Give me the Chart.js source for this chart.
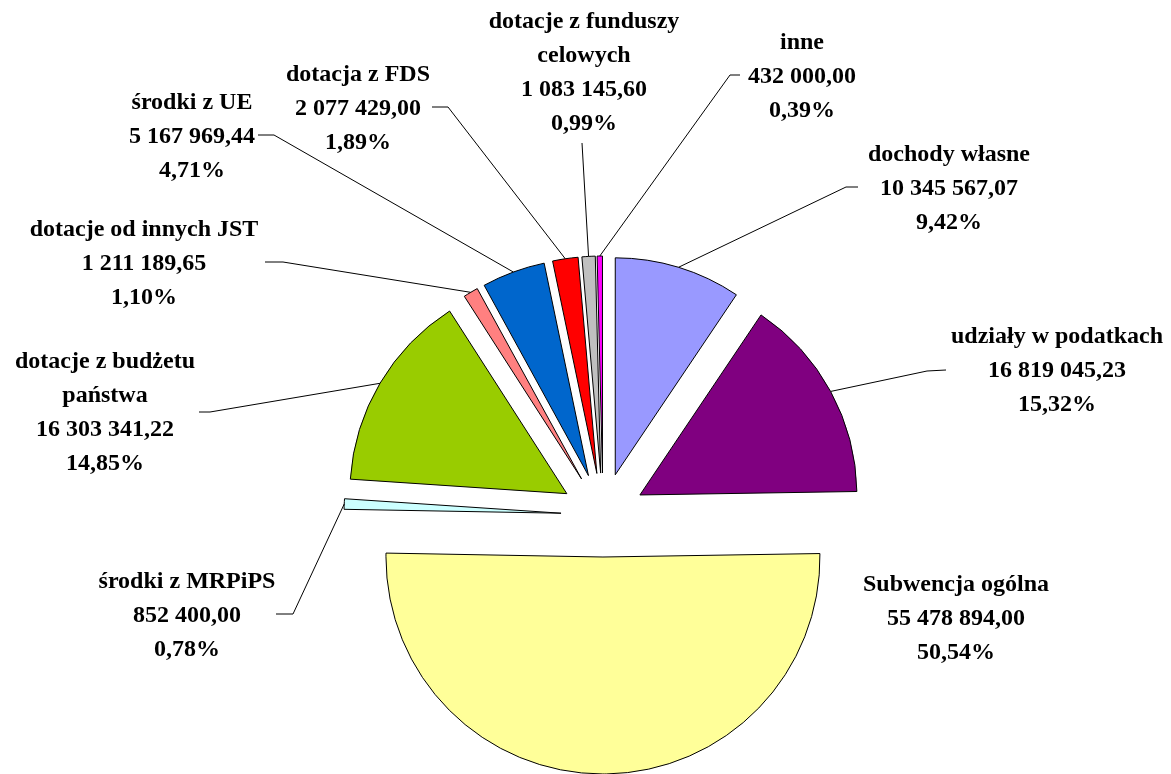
<!DOCTYPE html>
<html>
<head>
<meta charset="utf-8">
<script src="https://cdn.jsdelivr.net/npm/chart.js@4.4.1/dist/chart.umd.min.js"></script>
<style>
  html, body { margin: 0; padding: 0; background: #fff; }
  canvas { display: block; }
</style>
</head>
<body>
<canvas id="pie" width="1171" height="774"></canvas>
<script>
// dane
var names = [
  ['dochody własne'],
  ['udziały w podatkach'],
  ['Subwencja ogólna'],
  ['środki z MRPiPS'],
  ['dotacje z budżetu', 'państwa'],
  ['dotacje od innych JST'],
  ['środki z UE'],
  ['dotacja z FDS'],
  ['dotacje z funduszy', 'celowych'],
  ['inne']
];
var values = [10345567.07, 16819045.23, 55478894.00, 852400.00, 16303341.22,
              1211189.65, 5167969.44, 2077429.00, 1083145.60, 432000.00];
var colors = ['#9999FF', '#800080', '#FFFF99', '#CCFFFF', '#99CC00',
              '#FF8080', '#0066CC', '#FF0000', '#C0C0C0', '#FF00FF'];

// polozenie etykiet (srodek, y pierwszej linii) i linii odniesienia
var labelPos = [
  {x: 949, y: 155, lead: [[858, 187], [846, 187]]},
  {x: 1057, y: 337, lead: [[946, 370], [927, 371]]},
  {x: 956, y: 585, lead: null},
  {x: 187, y: 582, lead: [[276, 614], [293, 614]]},
  {x: 105, y: 362, lead: [[199, 412], [210, 412]]},
  {x: 144, y: 230, lead: [[265, 262], [283, 262]]},
  {x: 192, y: 103, lead: [[258, 135], [274, 135]]},
  {x: 358, y: 75, lead: [[432, 107], [448, 107]]},
  {x: 584, y: 22, lead: [[582, 143]]},
  {x: 802, y: 43, lead: [[740, 75], [730, 75]]}
];
var explode = 42;
var lineH = 34;

function fmt(v) {
  var parts = v.toFixed(2).split('.');
  var s = parts[0].replace(/\B(?=(\d{3})+(?!\d))/g, ' ');
  return s + ',' + parts[1];
}

var total = values.reduce(function (a, b) { return a + b; }, 0);

// rozsuniecie wycinkow
var explodePlugin = {
  id: 'explode',
  beforeDatasetDraw: function (chart) {
    var a = chart.chartArea;
    var cx = (a.left + a.right) / 2, cy = (a.top + a.bottom) / 2;
    chart.getDatasetMeta(0).data.forEach(function (el) {
      var mid = (el.startAngle + el.endAngle) / 2;
      el.x = cx + Math.cos(mid) * explode;
      el.y = cy + Math.sin(mid) * explode;
    });
  }
};

// etykiety z liniami
var labelPlugin = {
  id: 'pieLabels',
  afterDraw: function (chart) {
    var ctx = chart.ctx;
    var arcs = chart.getDatasetMeta(0).data;
    ctx.save();
    ctx.strokeStyle = '#000';
    ctx.lineWidth = 1;
    arcs.forEach(function (el, i) {
      var p = labelPos[i];
      if (p.lead) {
        var mid = (el.startAngle + el.endAngle) / 2;
        var ex = el.x + Math.cos(mid) * el.outerRadius;
        var ey = el.y + Math.sin(mid) * el.outerRadius;
        ctx.beginPath();
        ctx.moveTo(p.lead[0][0], p.lead[0][1]);
        for (var k = 1; k < p.lead.length; k++) ctx.lineTo(p.lead[k][0], p.lead[k][1]);
        ctx.lineTo(ex, ey);
        ctx.stroke();
      }
    });
    ctx.fillStyle = '#000';
    ctx.font = 'bold 24px "Liberation Serif", "Times New Roman", serif';
    ctx.textAlign = 'center';
    ctx.textBaseline = 'middle';
    arcs.forEach(function (el, i) {
      var p = labelPos[i];
      var lines = names[i].concat([fmt(values[i]), (values[i] / total * 100).toFixed(2).replace('.', ',') + '%']);
      lines.forEach(function (t, k) {
        ctx.fillText(t, p.x, p.y + k * lineH);
      });
    });
    ctx.restore();
  }
};

var ctx = document.getElementById('pie').getContext('2d');
var chart = new Chart(ctx, {
  type: 'pie',
  data: {
    labels: names.map(function (n) { return n.join(' '); }),
    datasets: [{
      data: values,
      backgroundColor: colors,
      borderColor: '#000',
      borderWidth: 1
    }]
  },
  options: {
    responsive: false,
    animation: false,
    events: [],
    radius: 217,
    layout: { padding: { left: 35, right: 0, top: 256, bottom: 0 } },
    plugins: {
      legend: { display: false },
      tooltip: { enabled: false }
    }
  },
  plugins: [explodePlugin, labelPlugin]
});
</script>
</body>
</html>
